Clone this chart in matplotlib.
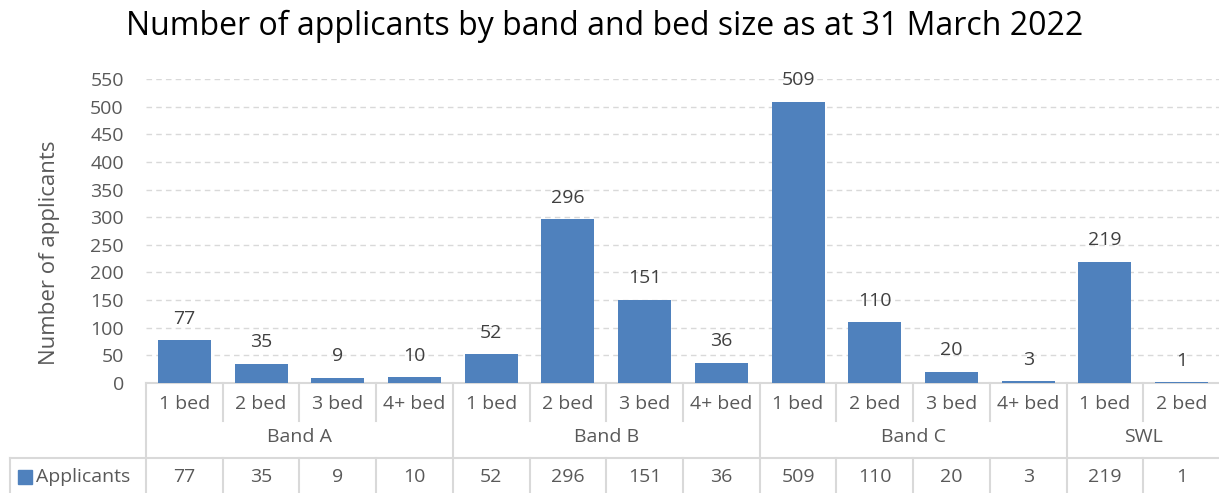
import matplotlib.pyplot as plt
from matplotlib.patches import Rectangle

bands = ["Band A", "Band B", "Band C", "SWL"]
beds = [
    ["1 bed", "2 bed", "3 bed", "4+ bed"],
    ["1 bed", "2 bed", "3 bed", "4+ bed"],
    ["1 bed", "2 bed", "3 bed", "4+ bed"],
    ["1 bed", "2 bed"],
]
applicants = [77, 35, 9, 10, 52, 296, 151, 36, 509, 110, 20, 3, 219, 1]

W, H = 1219, 493
BLUE = "#4f81bd"
GRID = "#d9d9d9"
TXT = "#595959"
FS = 14
plt.rcParams["font.family"] = ["Open Sans", "DejaVu Sans"]

fig = plt.figure(figsize=(W / 100, H / 100), dpi=100)
# plot area in pixels: left 146, right 1220, top 79, bottom 383
ax = fig.add_axes([146 / W, (H - 383) / H, (1220 - 146) / W, (383 - 79) / H])

labels = [b for grp in beds for b in grp]
x = list(range(len(labels)))
bars = ax.bar(x, applicants, width=0.69, color=BLUE, zorder=3)
for xi, v in zip(x, applicants):
    ax.annotate(str(v), (xi, v), xytext=(0, 12), textcoords="offset points",
                ha="center", va="baseline", fontsize=FS, color="#404040")

ax.set_xlim(-0.5, len(labels) - 0.5)
ax.set_ylim(0, 550)
ax.set_yticks(range(0, 551, 50))
ax.tick_params(axis="y", length=0, labelsize=FS, labelcolor=TXT, pad=16)
ax.set_xticks([])
ax.grid(axis="y", color=GRID, linestyle=(0, (4, 3)), linewidth=1, zorder=0)
for s in ax.spines.values():
    s.set_visible(False)


def ay(py):
    return (383 - py) / (383 - 79)


ax.set_ylabel("Number of applicants", fontsize=16, color=TXT, va="center")
ax.yaxis.set_label_coords((50 - 146) / (1220 - 146), ay(253))

tr = ax.get_xaxis_transform()
lk = dict(color=GRID, linewidth=1.5, clip_on=False, transform=tr, zorder=1)

# axis line / table top
ax.plot([-0.5, len(labels) - 0.5], [0, 0], **lk)

# bed-size labels and separators
for xi, lab in zip(x, labels):
    ax.text(xi, ay(404), lab, ha="center", va="center", fontsize=FS,
            color=TXT, transform=tr)
pos = -0.5
for grp, band in zip(beds, bands):
    n = len(grp)
    ax.text(pos + n / 2, ay(437), band, ha="center", va="center",
            fontsize=FS, color=TXT, transform=tr)
    ax.plot([pos, pos], [0, ay(H)], **lk)
    for k in range(1, n):
        ax.plot([pos + k, pos + k], [0, ay(421)], **lk)
        ax.plot([pos + k, pos + k], [ay(458), ay(H)], **lk)
    pos += n

# data table row
ax.plot([(10 - 146) / ((1220 - 146) / len(labels)) - 0.5, len(labels) - 0.5],
        [ay(458), ay(458)], **lk)
fig.add_artist(plt.Line2D([10 / W, 10 / W], [0, (H - 458) / H], color=GRID,
                          linewidth=1.5))
for xi, v in zip(x, applicants):
    ax.text(xi, ay(477), str(v), ha="center", va="center", fontsize=FS,
            color=TXT, transform=tr)
fig.add_artist(Rectangle((18 / W, (H - 484) / H), 14 / W, 14 / H,
                         transform=fig.transFigure, color=BLUE))
fig.text(36 / W, (H - 477) / H, "Applicants", ha="left", va="center",
         fontsize=FS, color=TXT)

fig.text(605 / W, (H - 26) / H,
         "Number of applicants by band and bed size as at 31 March 2022",
         ha="center", va="center", fontsize=23, color="black")

fig.savefig("out.png", dpi=100)
